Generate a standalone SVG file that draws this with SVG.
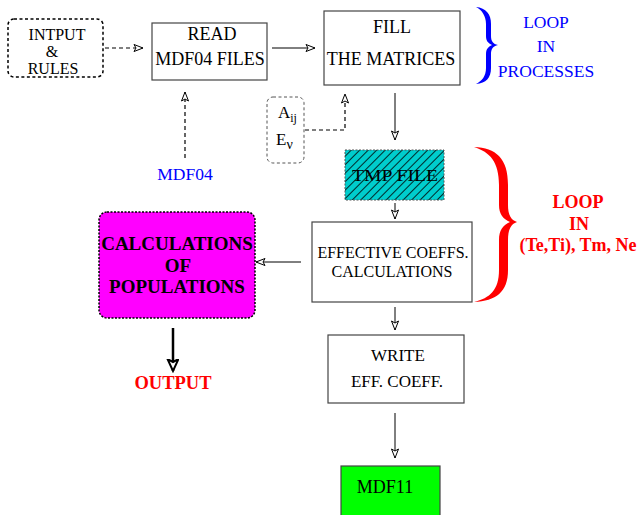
<svg xmlns="http://www.w3.org/2000/svg" width="642" height="515" viewBox="0 0 642 515" font-family="Liberation Serif">
<style>
text{font-size:17px;fill:#000;text-anchor:middle}
.b{font-weight:bold}
.blue{fill:#0000FF}
.red{fill:#FF0000}
.box{fill:#fff;stroke:#444;stroke-width:1.2}
.ln{fill:none;stroke:#000;stroke-width:1}
.dash{fill:none;stroke:#000;stroke-width:1.2;stroke-dasharray:4 3}
</style>
<defs>
<marker id="ah" markerWidth="12" markerHeight="10" refX="10" refY="4" orient="auto" markerUnits="userSpaceOnUse">
<path d="M1,0.5 L10,4 L1,7.5 L3,4 Z" fill="#fff" stroke="#000" stroke-width="1"/>
</marker>
<marker id="ahb" markerWidth="14" markerHeight="14" refX="12" refY="6" orient="auto" markerUnits="userSpaceOnUse">
<path d="M0,0.5 L12,6 L0,11.5 L3,6 Z" fill="#fff" stroke="#000" stroke-width="2"/>
</marker>
<pattern id="hatch" width="6" height="6" patternUnits="userSpaceOnUse" patternTransform="rotate(45)">
<rect width="6" height="6" fill="#00CDCD"/>
<line x1="0" y1="0" x2="0" y2="6" stroke="#000" stroke-width="1.6"/>
</pattern>
</defs>

<g id="connectors">
<line class="dash" x1="105" y1="48" x2="143" y2="48" marker-end="url(#ah)"/>
<line class="ln" x1="272" y1="48" x2="315" y2="48" marker-end="url(#ah)"/>
<line class="dash" x1="185" y1="158" x2="185" y2="92" marker-end="url(#ah)"/>
<polyline class="dash" points="305,130 345,130 345,94" marker-end="url(#ah)"/>
<line class="ln" x1="395" y1="93" x2="395" y2="140" marker-end="url(#ah)"/>
<line class="ln" x1="395" y1="203" x2="395" y2="219" marker-end="url(#ah)"/>
<line class="ln" x1="301" y1="262" x2="256" y2="262" marker-end="url(#ah)"/>
<line x1="173" y1="328" x2="173" y2="371" stroke="#000" stroke-width="2.5" marker-end="url(#ahb)"/>
<line class="ln" x1="395" y1="307" x2="395" y2="330" marker-end="url(#ah)"/>
<line class="ln" x1="395" y1="413" x2="395" y2="458" marker-end="url(#ah)"/>
</g>

<g id="input">
<rect x="8" y="19" width="95" height="58" rx="6" fill="#fff" stroke="#000" stroke-width="1.5" stroke-dasharray="3 2.5"/>
<text x="57" y="40" style="font-size:16px">INTPUT</text>
<text x="52" y="57" style="font-size:16px">&amp;</text>
<text x="53" y="74" style="font-size:16px">RULES</text>
</g>

<g id="read">
<rect class="box" x="152" y="23" width="115" height="57"/>
<text x="212" y="40" style="font-size:18px">READ</text>
<text x="210" y="65" style="font-size:18px">MDF04 FILES</text>
</g>

<g id="fill">
<rect class="box" x="324" y="11" width="136" height="74"/>
<text x="392" y="33" style="font-size:18px">FILL</text>
<text x="391" y="65" style="font-size:18px">THE MATRICES</text>
</g>

<g id="loop-processes">
<path d="M476,7 C486,8 491,14 491,24 L491,36 C491,41 493,44 498,45 C493,46 491,49 491,54 L491,68 C491,78 486,83 476,84 C482,81 486,76 486,68 L486,54 C486,49 488,47 492,45 C488,43 486,41 486,36 L486,24 C486,16 482,10 476,7 Z" fill="#0000FF"/>
<text class="blue" x="546" y="28" style="font-size:17.5px">LOOP</text>
<text class="blue" x="546" y="52" style="font-size:17.5px">IN</text>
<text class="blue" x="546" y="77" style="font-size:17.5px">PROCESSES</text>
</g>

<g id="mdf04">
<text class="blue" x="185" y="180" style="font-size:17.5px">MDF04</text>
</g>

<g id="aij">
<rect x="267" y="97" width="37" height="66" rx="6" fill="#fff" stroke="#555" stroke-width="1" stroke-dasharray="3 2.5"/>
<text style="text-anchor:start"><tspan x="278" y="118">A</tspan><tspan dy="4" style="font-size:12px">ij</tspan></text>
<text style="text-anchor:start"><tspan x="276" y="145">E</tspan><tspan dy="4" style="font-size:14px">ν</tspan></text>
</g>

<g id="tmp">
<rect x="345" y="150" width="99" height="50" fill="url(#hatch)" stroke="#555" stroke-width="1" stroke-dasharray="2 1.5"/>
<text x="395" y="181" textLength="86" lengthAdjust="spacingAndGlyphs">TMP FILE</text>
</g>

<g id="effective">
<rect class="box" x="312" y="222" width="160" height="80"/>
<text x="393" y="258" style="font-size:16px">EFFECTIVE COEFFS.</text>
<text x="392" y="277" style="font-size:16px">CALCULATIONS</text>
</g>

<g id="loop-params">
<path d="M474,147 C496,148 508,158 508,185 L508,205 C508,215 511,220 517,222 C511,224 508,229 508,240 L508,270 C508,292 496,301 474,302 C490,298 499,290 499,270 L499,240 C499,230 503,225 510,222 C503,219 499,214 499,205 L499,185 C499,162 490,152 474,147 Z" fill="#FF0000"/>
<text class="red b" x="578" y="208" style="font-size:18px">LOOP</text>
<text class="red b" x="579" y="230" style="font-size:18px">IN</text>
<text class="red b" x="578" y="251" style="font-size:18px">(Te,Ti), Tm, Ne</text>
</g>

<g id="populations">
<rect x="99" y="212" width="156" height="106" rx="8" fill="#FF00FF" stroke="#000" stroke-width="1.5" stroke-dasharray="2 1.5"/>
<text class="b" x="177" y="250" style="font-size:19px">CALCULATIONS</text>
<text class="b" x="178" y="272" style="font-size:19px">OF</text>
<text class="b" x="177" y="293" style="font-size:19px">POPULATIONS</text>
</g>

<g id="output">
<text class="red b" x="173" y="389" style="font-size:18.5px">OUTPUT</text>
</g>

<g id="write">
<rect class="box" x="328" y="335" width="136" height="68"/>
<text x="398" y="361">WRITE</text>
<text x="397" y="387">EFF. COEFF.</text>
</g>

<g id="mdf11">
<rect x="341" y="466" width="99" height="52" fill="#00FF00" stroke="#444" stroke-width="1.2"/>
<text x="385" y="493" style="font-size:18px">MDF11</text>
</g>
</svg>
